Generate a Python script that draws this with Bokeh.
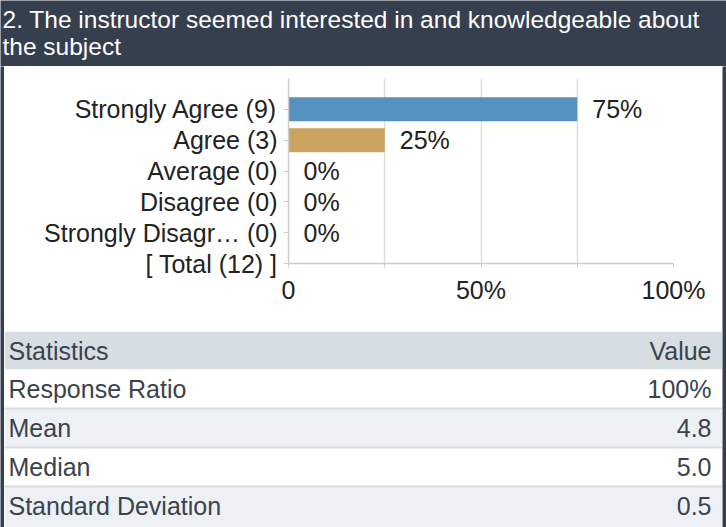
from bokeh.plotting import figure
from bokeh.models import Range1d, FixedTicker, ColumnDataSource
from bokeh.layouts import column, row
from bokeh.core.properties import value
from bokeh.embed import file_html
from bokeh.resources import INLINE

# ---------------- data ----------------
title_lines = ["2. The instructor seemed interested in and knowledgeable about", "the subject"]
categories = ["Strongly Agree (9)", "Agree (3)", "Average (0)", "Disagree (0)",
              "Strongly Disagr\u2026 (0)", "[ Total (12) ]"]
percents = [75, 25, 0, 0, 0]
pct_labels = ["75%", "25%", "0%", "0%", "0%"]
bar_colors = ["#5592c0", "#c9a35f", "#5592c0", "#5592c0", "#5592c0"]
x_ticks = [0, 25, 50, 75, 100]
x_tick_labels = ["0", "", "50%", "", "100%"]
stat_header = ["Statistics", "Value"]
stat_names = ["Response Ratio", "Mean", "Median", "Standard Deviation"]
stat_values = ["100%", "4.8", "5.0", "0.5"]

FONT = value("Liberation Sans")
DARK = "#353f4e"
W = 726
SIDE = 4
CW = W - 2 * SIDE
HDR_H = 66
CH_H = 265
TH = 196


def plain(fig, bg="#ffffff"):
    fig.background_fill_color = bg
    fig.border_fill_color = bg
    fig.outline_line_color = None
    fig.axis.visible = False
    fig.grid.visible = False
    fig.frame_align = False
    return fig


# ---------------- header ----------------
hdr = figure(width=W, height=HDR_H, x_range=Range1d(0, W), y_range=Range1d(HDR_H, 0),
             output_backend="svg", toolbar_location=None, min_border=0)
plain(hdr, DARK)
hdr.text(x=[2, 2], y=[19, 46], text=title_lines, text_font=FONT, text_font_size="24.5px",
         text_color="#ffffff", text_baseline="middle")

# ---------------- chart ----------------
n = len(categories)
positions = [n - 1 - i for i in range(n)]
src = ColumnDataSource(dict(pos=positions[:len(percents)], pct=percents,
                            label=pct_labels, color=bar_colors))

p = figure(width=CW, height=CH_H, x_range=Range1d(0, 100), y_range=Range1d(0, 6),
           output_backend="svg", toolbar_location=None,
           min_border_left=284, min_border_right=49, min_border_top=12, min_border_bottom=68)
p.outline_line_color = None
p.frame_align = False
p.hbar(y="pos", left=0, right="pct", height=0.78, color="color", line_color=None, source=src)
p.text(x="pct", y="pos", text="label", x_offset=15, text_baseline="middle",
       text_font=FONT, text_font_size="25px", text_color="#222222", source=src)

p.yaxis.ticker = FixedTicker(ticks=positions)
p.yaxis.major_label_overrides = {pos: cat for pos, cat in zip(positions, categories)}
p.xaxis.ticker = FixedTicker(ticks=x_ticks)
p.xaxis.major_label_overrides = {t: l for t, l in zip(x_ticks, x_tick_labels)}
for ax in (p.xaxis, p.yaxis):
    ax.axis_line_color = "#cccccc"
    ax.axis_line_width = 1.5
    ax.major_tick_line_color = "#cccccc"
    ax.major_tick_in = 0
    ax.minor_tick_line_color = None
    ax.major_label_text_font = "Liberation Sans"
    ax.major_label_text_font_size = "25px"
    ax.major_label_text_color = "#222222"
p.yaxis.major_tick_out = 5
p.yaxis.major_label_standoff = 6
p.xaxis.major_tick_out = 4
p.xaxis.major_label_standoff = 8
p.xgrid.ticker = FixedTicker(ticks=x_ticks)
p.xgrid.grid_line_color = "#dddddd"
p.xgrid.grid_line_width = 1.5
p.ygrid.visible = False

# ---------------- table ----------------
tb = figure(width=CW, height=TH, x_range=Range1d(0, CW), y_range=Range1d(TH, 0),
            output_backend="svg", toolbar_location=None, min_border=0)
plain(tb)
bounds = [0, 38, 77, 116, 155, 196]
fills = ["#d7dee3", "#ffffff", "#edf1f5", "#ffffff", "#edf1f5"]
tb.quad(left=0, right=CW, top=bounds[:-1], bottom=bounds[1:], fill_color=fills, line_color=None)
tb.segment(x0=0, x1=CW, y0=bounds[2:-1], y1=bounds[2:-1], line_color="#d6dce1", line_width=2)
mids = [(bounds[i] + bounds[i + 1]) / 2 for i in range(len(bounds) - 1)]
mids[-1] = bounds[-2] + 19
names = [stat_header[0]] + stat_names
vals = [stat_header[1]] + stat_values
tb.text(x=4, y=mids, text=names, text_font=FONT, text_font_size="25px",
        text_color="#3b424c", text_baseline="middle", text_align="left")
tb.text(x=CW - 11, y=mids, text=vals, text_font=FONT, text_font_size="25px",
        text_color="#3b424c", text_baseline="middle", text_align="right")


# ---------------- side borders ----------------
def strip(h):
    s = figure(width=SIDE, height=h, output_backend="svg", toolbar_location=None, min_border=0,
               x_range=Range1d(0, 1), y_range=Range1d(0, 1))
    return plain(s, DARK)


body = row(strip(CH_H + TH), column(p, tb, spacing=0), strip(CH_H + TH), spacing=0)
layout = column(hdr, body, spacing=0)

open("out.html", "w").write(file_html(layout, INLINE))
